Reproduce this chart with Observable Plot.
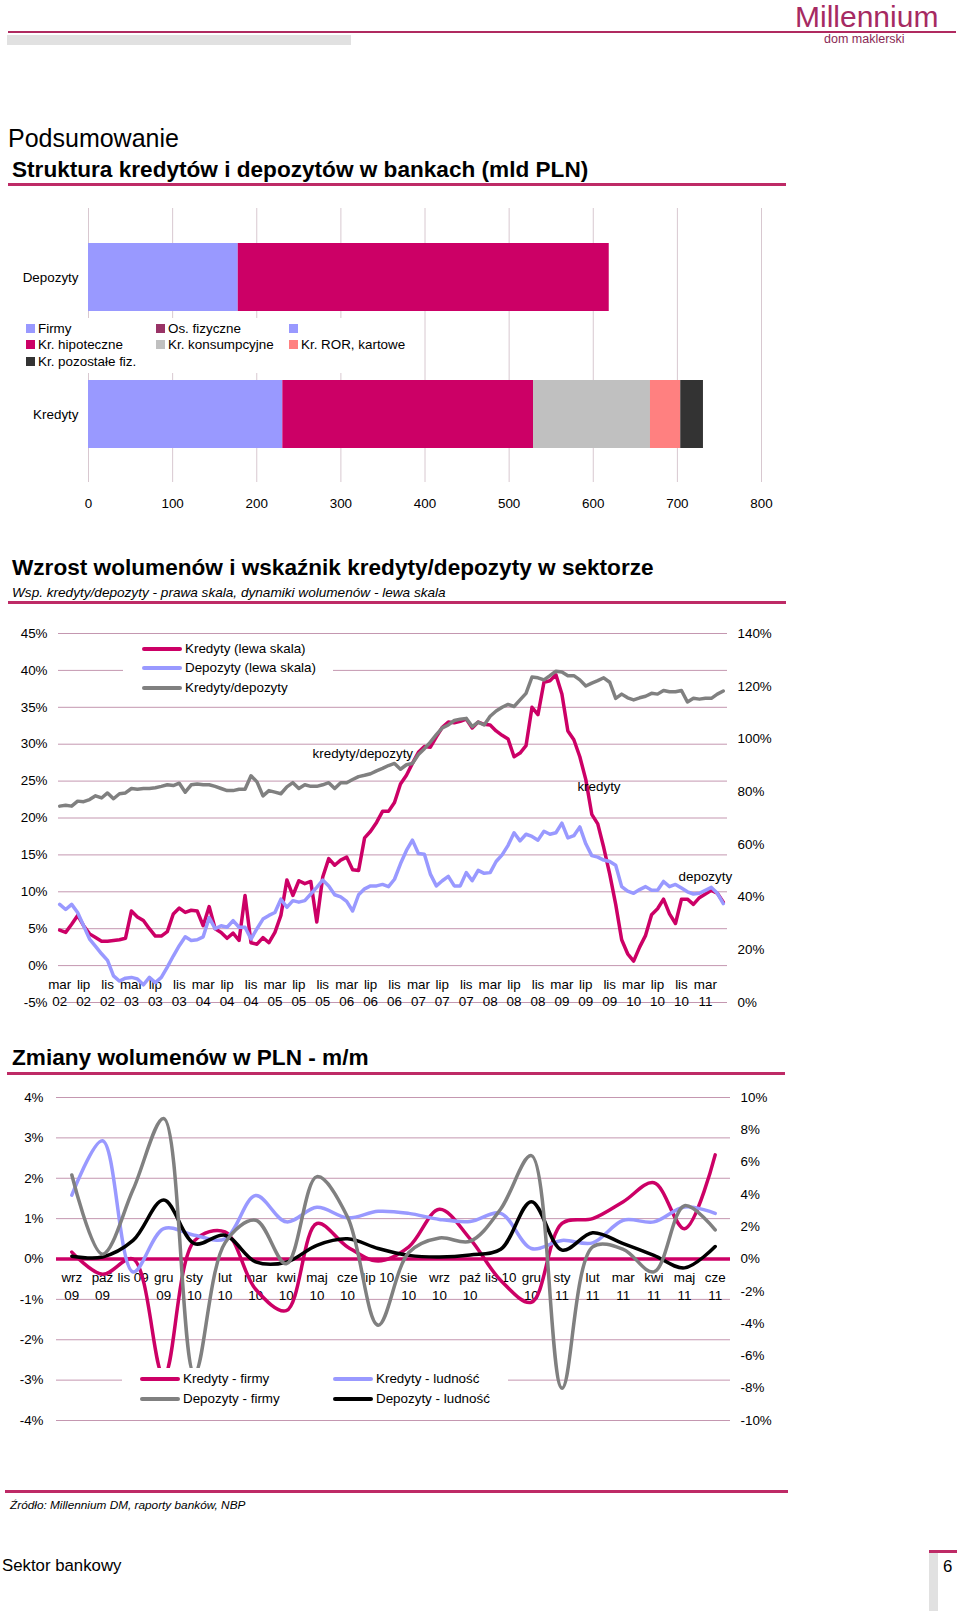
<!DOCTYPE html>
<html lang="pl">
<head>
<meta charset="utf-8">
<script src="https://cdn.jsdelivr.net/npm/d3@7"></script>
<script src="https://cdn.jsdelivr.net/npm/@observablehq/plot@0.6"></script>
<style>
html,body{margin:0;padding:0;background:#fff;}
#page{position:relative;width:960px;height:1611px;overflow:hidden;font-family:"Liberation Sans",Arial,sans-serif;color:#000;}
.a{position:absolute;white-space:nowrap;line-height:1;}
.c{transform:translateY(-50%);}
.rule{position:absolute;background:#BE2A66;}
.chart{position:absolute;left:0;}
.legend{position:absolute;background:#fff;font-size:13px;}
.legend .sw{position:absolute;}
.legend .tx{position:absolute;white-space:nowrap;line-height:1;transform:translateY(-50%);}
</style>
</head>
<body>
<div id="page">
  <div class="rule" style="left:8px;top:31px;width:948px;height:2px;background:#B02A60"></div>
  <div class="a" style="left:7px;top:35px;width:344px;height:10px;background:#E1E1E1"></div>
  <div class="a c" style="left:795px;top:17px;font-size:30px;color:#A62A62;">Millennium</div>
  <div class="a c" style="left:824px;top:39px;font-size:12.5px;color:#8A2A55;">dom maklerski</div>

  <div class="a c" style="left:8px;top:138px;font-size:25px;">Podsumowanie</div>
  <div class="a c" style="left:12px;top:170px;font-size:22.6px;font-weight:bold;">Struktura kredytów i depozytów w bankach (mld PLN)</div>
  <div class="rule" style="left:8px;top:183px;width:778px;height:3px;"></div>
  <div class="chart" id="chart1" style="top:200px"></div>
  <div class="legend" id="legend1" style="left:18px;top:318px;width:400px;height:55px;font-size:13.4px"></div>

  <div class="a c" style="left:12px;top:568px;font-size:22.6px;font-weight:bold;">Wzrost wolumenów i wskaźnik kredyty/depozyty w sektorze</div>
  <div class="a c" style="left:12px;top:593px;font-size:13.6px;font-style:italic;">Wsp. kredyty/depozyty - prawa skala, dynamiki wolumenów - lewa skala</div>
  <div class="rule" style="left:8px;top:601px;width:778px;height:3px;"></div>
  <div class="chart" id="chart2" style="top:615px"></div>
  <div class="legend" id="legend2" style="left:123px;top:638px;width:210px;height:60px;font-size:13.4px"></div>

  <div class="a c" style="left:12px;top:1058px;font-size:22.6px;font-weight:bold;">Zmiany wolumenów w PLN - m/m</div>
  <div class="rule" style="left:7px;top:1072px;width:778px;height:3px;"></div>
  <div class="chart" id="chart3" style="top:1080px"></div>
  <div class="legend" id="legend3" style="left:122px;top:1368px;width:386px;height:42px;font-size:13.4px"></div>

  <div class="rule" style="left:5px;top:1490px;width:783px;height:3px;"></div>
  <div class="a c" style="left:10px;top:1506px;font-size:11.8px;font-style:italic;">Źródło: Millennium DM, raporty banków, NBP</div>
  <div class="a c" style="left:2px;top:1566px;font-size:16.8px;">Sektor bankowy</div>
  <div class="rule" style="left:929px;top:1550px;width:28px;height:3px;"></div>
  <div class="a" style="left:929px;top:1553px;width:9px;height:58px;background:#E1E1E1"></div>
  <div class="a c" style="left:943px;top:1567px;font-size:16.8px;">6</div>
</div>
<script>
// ---------------- DATA ----------------
// Chart 1: structure (mld PLN)
const barCategories = ["Depozyty", "Kredyty"];
const depSegments = ["Firmy", "Os. fizyczne"];
const depValues = [178, 441];
const depColors = ["#9999FF", "#CC0066"];
const kredSegments = ["Firmy", "Kr. hipoteczne", "Kr. konsumpcyjne", "Kr. ROR, kartowe", "Kr. pozostałe fiz."];
const kredValues = [231, 298, 139, 36, 27];
const kredColors = ["#9999FF", "#CC0066", "#C0C0C0", "#FF8080", "#333333"];
const barTicks = [0, 100, 200, 300, 400, 500, 600, 700, 800];
const legend1Labels = ["Firmy", "Os. fizyczne", "", "Kr. hipoteczne", "Kr. konsumpcyjne", "Kr. ROR, kartowe", "Kr. pozostałe fiz."];
const legend1Colors = ["#9999FF", "#993366", "#9999FF", "#CC0066", "#C0C0C0", "#FF8080", "#333333"];

// Chart 2: monthly, mar 02 .. cze 11 (y/y %, left scale; ratio % right scale)
const kredytyDyn = [
  4.8, 4.5, 5.6, 6.8, 5.4, 4.3, 3.8, 3.3, 3.3, 3.4,
  3.5, 3.7, 7.4, 6.6, 6.1, 5.0, 4.0, 4.0, 4.6, 7.0,
  7.8, 7.2, 7.5, 7.4, 5.4, 8.0, 5.0, 4.5, 3.7, 4.4,
  3.4, 9.5, 3.1, 2.9, 3.8, 3.1, 4.5, 6.8, 11.6, 9.5,
  11.5, 11.1, 11.4, 5.9, 12.0, 14.5, 13.6, 14.3, 14.7, 13.0,
  12.9, 17.3, 18.2, 19.4, 20.9, 20.9, 22.1, 24.6, 25.8, 27.4,
  28.9, 29.7, 29.6, 31.0, 32.3, 33.0, 32.9, 33.1, 33.4, 32.2,
  33.0, 32.7, 32.6, 31.8, 31.2, 30.7, 28.3, 28.8, 29.8, 35.0,
  34.0, 38.4, 38.6, 39.4, 36.8, 31.8, 30.6, 28.3, 25.2, 20.5,
  19.2, 16.0, 12.4, 8.3, 3.5, 1.6, 0.6, 2.5, 4.1, 6.9,
  7.7, 9.0, 7.0, 5.7, 9.0, 9.0, 8.3, 9.2, 9.7, 10.2,
  9.8, 8.6
];
const depozytyDyn = [
  8.3, 7.6, 8.3, 7.2, 5.4, 3.6, 2.6, 1.6, 0.7, -1.4,
  -2.1, -1.7, -1.6, -1.8, -2.6, -1.6, -2.3, -1.6, -0.2, 1.3,
  2.7, 3.9, 3.4, 3.5, 3.9, 6.5, 5.0, 5.4, 5.2, 6.1,
  5.2, 5.2, 3.6, 5.0, 6.3, 6.8, 7.2, 9.0, 7.9, 8.8,
  8.6, 8.8, 9.7, 10.6, 11.6, 10.8, 9.6, 9.3, 8.7, 7.4,
  9.6, 10.4, 10.8, 10.8, 11.0, 10.7, 11.7, 13.8, 15.6, 17.0,
  15.2, 15.1, 12.4, 10.8, 11.5, 12.1, 10.8, 10.8, 12.6, 11.5,
  12.9, 12.5, 12.6, 14.1, 15.0, 16.3, 18.0, 16.9, 17.8, 17.5,
  17.0, 18.2, 17.8, 18.0, 19.3, 17.3, 17.6, 18.8, 16.5, 14.9,
  14.7, 14.3, 14.1, 13.6, 10.7, 10.1, 9.8, 10.3, 10.7, 10.2,
  10.2, 11.4, 10.7, 11.0, 10.5, 10.0, 9.7, 9.8, 10.2, 10.6,
  9.8, 8.4
];
const kredDepRatio = [
  74.5, 74.8, 74.5, 76.4, 76.2, 77.0, 78.4, 77.6, 79.5, 77.3,
  79.2, 79.5, 81.2, 80.9, 81.2, 81.2, 81.5, 82.0, 82.6, 82.3,
  83.2, 79.8, 82.6, 82.9, 82.6, 82.6, 82.0, 81.2, 80.4, 80.4,
  80.9, 80.9, 86.0, 83.7, 78.4, 80.4, 79.8, 79.2, 81.8, 83.4,
  81.2, 82.6, 82.0, 82.0, 82.6, 83.4, 81.2, 83.4, 83.4, 84.6,
  85.7, 86.2, 86.8, 87.9, 88.8, 89.9, 90.7, 88.5, 90.2, 90.7,
  94.1, 96.3, 98.8, 101.6, 104.2, 105.3, 107.0, 107.5, 107.8, 104.7,
  106.4, 105.3, 108.6, 110.6, 112.0, 113.1, 112.3, 114.8, 117.3, 123.5,
  123.2, 122.4, 124.0, 125.7, 125.4, 124.0, 124.0, 122.4, 120.1, 121.2,
  122.1, 123.2, 121.5, 115.4, 117.0, 115.6, 114.8, 115.6, 116.2, 117.3,
  117.0, 118.4, 117.9, 117.9, 118.4, 114.0, 115.4, 115.1, 115.4, 115.4,
  117.0, 118.2
];
const monthTickLabels2 = [
  "mar\n02", "lip\n02", "lis\n02", "mar\n03", "lip\n03", "lis\n03", "mar\n04", "lip\n04", "lis\n04",
  "mar\n05", "lip\n05", "lis\n05", "mar\n06", "lip\n06", "lis\n06", "mar\n07", "lip\n07", "lis\n07",
  "mar\n08", "lip\n08", "lis\n08", "mar\n09", "lip\n09", "lis\n09", "mar\n10", "lip\n10", "lis\n10", "mar\n11"
];
const leftTicks2 = [-5, 0, 5, 10, 15, 20, 25, 30, 35, 40, 45];
const rightTicks2 = [0, 20, 40, 60, 80, 100, 120, 140];
const legend2Labels = ["Kredyty (lewa skala)", "Depozyty (lewa skala)", "Kredyty/depozyty"];
const legend2Colors = ["#CC0066", "#9999FF", "#808080"];
const annotations2 = [
  {text: "kredyty/depozyty", month: 50.7, value: 28.7},
  {text: "kredyty", month: 90.2, value: 24.3},
  {text: "depozyty", month: 108.0, value: 12.1}
];

// Chart 3: m/m changes, wrz 09 .. cze 11
const months3 = ["wrz\n09", "paź\n09", "lis 09", "gru\n09", "sty\n10", "lut\n10", "mar\n10", "kwi\n10", "maj\n10", "cze\n10", "lip 10",
  "sie\n10", "wrz\n10", "paź\n10", "lis 10", "gru\n10", "sty\n11", "lut\n11", "mar\n11", "kwi\n11", "maj\n11", "cze\n11"];
const kredytyFirmy = [0.17, -0.38, 0.0, -2.89, 0.45, 0.67, -0.75, -1.28, 0.88, 0.3, -0.05, 0.3, 1.23, 0.5, -0.53, -1.07, 0.88, 1.0, 1.42, 1.89, 0.75, 2.58];
const kredytyLudnosc = [1.58, 2.93, -0.32, 0.75, 0.59, 0.5, 1.57, 0.92, 1.28, 1.02, 1.18, 1.13, 0.98, 0.93, 1.13, 0.26, 0.46, 0.4, 0.96, 0.92, 1.29, 1.13];
const depozytyFirmy = [5.2, 0.3, 4.3, 8.7, -7.1, 1.0, 2.4, -0.3, 5.1, 2.6, -4.1, 0.4, 1.3, 1.1, 3.1, 6.4, -8.0, 0.75, 0.6, -0.8, 3.3, 1.8]; // right scale
const depozytyLudnosc = [0.07, 0.05, 0.46, 1.46, 0.38, 0.59, -0.07, -0.08, 0.34, 0.5, 0.26, 0.09, 0.05, 0.1, 0.24, 1.42, 0.22, 0.65, 0.38, 0.09, -0.22, 0.31];
const leftTicks3 = [-4, -3, -2, -1, 0, 1, 2, 3, 4];
const rightTicks3 = [-10, -8, -6, -4, -2, 0, 2, 4, 6, 8, 10];
const legend3Labels = ["Kredyty - firmy", "Kredyty - ludność", "Depozyty - firmy", "Depozyty - ludność"];
const legend3Colors = ["#CC0066", "#9999FF", "#808080", "#000000"];

// ---------------- RENDER ----------------
const FONT = "'Liberation Sans', Arial, sans-serif";
const style = {fontFamily: FONT, fontSize: "13px", color: "#000", background: "transparent", overflow: "visible"};
const GRID = "#C497B0";

// Chart 1
const rows1 = [
  ...depSegments.map((s, i) => ({cat: barCategories[0], seg: s, value: depValues[i], color: depColors[i]})),
  ...kredSegments.map((s, i) => ({cat: barCategories[1], seg: s, value: kredValues[i], color: kredColors[i]}))
];
const c1 = Plot.plot({
  width: 800, height: 320,
  marginLeft: 88, marginRight: 39, marginTop: 8, marginBottom: 38,
  style,
  x: {domain: [0, 800], label: null},
  y: {domain: barCategories, range: [29.3, 261.7], paddingInner: 0.504, paddingOuter: 0.1, label: null},
  color: {type: "identity"},
  marks: [
    Plot.ruleX(barTicks, {stroke: "#D8C8D0", strokeWidth: 1}),
    Plot.barX(rows1, Plot.stackX({x: "value", y: "cat", fill: "color", order: null})),
    Plot.axisX(barTicks, {tickSize: 0, tickPadding: 16, fontSize: 13.4}),
    Plot.axisY({tickSize: 0, tickPadding: 10, fontSize: 13.4})
  ]
});
document.getElementById("chart1").append(c1);

function legendSquares(el, labels, colors, colX, rowY, cols) {
  labels.forEach((lab, i) => {
    const cx = colX[i % cols], cy = rowY[Math.floor(i / cols)];
    const sw = document.createElement("div");
    sw.className = "sw";
    sw.style.cssText = `left:${cx}px;top:${cy - 5}px;width:9px;height:9px;background:${colors[i]}`;
    el.append(sw);
    const tx = document.createElement("div");
    tx.className = "tx";
    tx.style.cssText = `left:${cx + 12}px;top:${cy}px`;
    tx.textContent = lab;
    el.append(tx);
  });
}
legendSquares(document.getElementById("legend1"), legend1Labels, legend1Colors, [8, 138, 271], [11, 27, 44], 3);

function legendLines(el, labels, colors, colX, rowY, cols, w) {
  labels.forEach((lab, i) => {
    const cx = colX[i % cols], cy = rowY[Math.floor(i / cols)];
    const sw = document.createElement("div");
    sw.className = "sw";
    sw.style.cssText = `left:${cx}px;top:${cy - 2}px;width:${w}px;height:4px;background:${colors[i]};border-radius:2px`;
    el.append(sw);
    const tx = document.createElement("div");
    tx.className = "tx";
    tx.style.cssText = `left:${cx + w + 3}px;top:${cy}px`;
    tx.textContent = lab;
    el.append(tx);
  });
}

// Chart 2
const k2 = 2.8; // right scale factor: right = (left + 5) * 2.8
const c2 = Plot.plot({
  width: 790, height: 400,
  marginLeft: 58, marginRight: 63, marginTop: 18, marginBottom: 13,
  style,
  x: {domain: [-0.2, 111.7], axis: null},
  y: {domain: [-5, 45], label: null},
  marks: [
    Plot.ruleY(leftTicks2, {stroke: GRID, strokeWidth: 1}),
    Plot.text(monthTickLabels2, {x: (d, i) => i * 4, y: 0, text: d => d, lineAnchor: "top", dy: 11, lineHeight: 1.3, fontSize: 13.4}),
    Plot.line(kredytyDyn, {x: (d, i) => i, y: d => d, stroke: "#CC0066", strokeWidth: 3.5}),
    Plot.line(depozytyDyn, {x: (d, i) => i, y: d => d, stroke: "#9999FF", strokeWidth: 3.5}),
    Plot.line(kredDepRatio, {x: (d, i) => i, y: d => d / k2 - 5, stroke: "#808080", strokeWidth: 3.5}),
    Plot.text(annotations2, {x: "month", y: "value", text: "text", fontSize: 13.4}),
    Plot.axisY(leftTicks2, {anchor: "left", tickSize: 0, tickPadding: 11, tickFormat: d => d + "%", fontSize: 13.4}),
    Plot.axisY(rightTicks2.map(r => r / k2 - 5), {anchor: "right", tickSize: 0, tickPadding: 10, tickFormat: v => Math.round((v + 5) * k2) + "%", fontSize: 13.4})
  ]
});
document.getElementById("chart2").append(c2);
legendLines(document.getElementById("legend2"), legend2Labels, legend2Colors, [19], [11, 30, 50], 1, 40);

// Chart 3
const k3 = 2.5; // right scale factor
const c3 = Plot.plot({
  width: 790, height: 360,
  marginLeft: 56, marginRight: 60, marginTop: 17, marginBottom: 20,
  style,
  x: {domain: [-0.5, 21.5], axis: null},
  y: {domain: [-4, 4], label: null},
  marks: [
    Plot.ruleY(leftTicks3, {stroke: GRID, strokeWidth: 1}),
    Plot.ruleY([0], {stroke: "#CC0066", strokeWidth: 3.5}),
    Plot.text(months3, {x: (d, i) => i, y: 0, text: d => d, lineAnchor: "top", dy: 11, lineHeight: 1.3, fontSize: 13.4}),
    Plot.line(kredytyFirmy, {x: (d, i) => i, y: d => d, stroke: "#CC0066", strokeWidth: 3.5, curve: "catmull-rom"}),
    Plot.line(kredytyLudnosc, {x: (d, i) => i, y: d => d, stroke: "#9999FF", strokeWidth: 3.5, curve: "catmull-rom"}),
    Plot.line(depozytyLudnosc, {x: (d, i) => i, y: d => d, stroke: "#000000", strokeWidth: 3.5, curve: "catmull-rom"}),
    Plot.line(depozytyFirmy, {x: (d, i) => i, y: d => d / k3, stroke: "#808080", strokeWidth: 3.5, curve: "catmull-rom"}),
    Plot.axisY(leftTicks3, {anchor: "left", tickSize: 0, tickPadding: 13, tickFormat: d => d + "%", fontSize: 13.4}),
    Plot.axisY(rightTicks3.map(r => r / k3), {anchor: "right", tickSize: 0, tickPadding: 10, tickFormat: v => Math.round(v * k3) + "%", fontSize: 13.4})
  ]
});
document.getElementById("chart3").append(c3);
legendLines(document.getElementById("legend3"), legend3Labels, legend3Colors, [18, 211], [11, 31], 2, 40);
</script>
</body>
</html>
